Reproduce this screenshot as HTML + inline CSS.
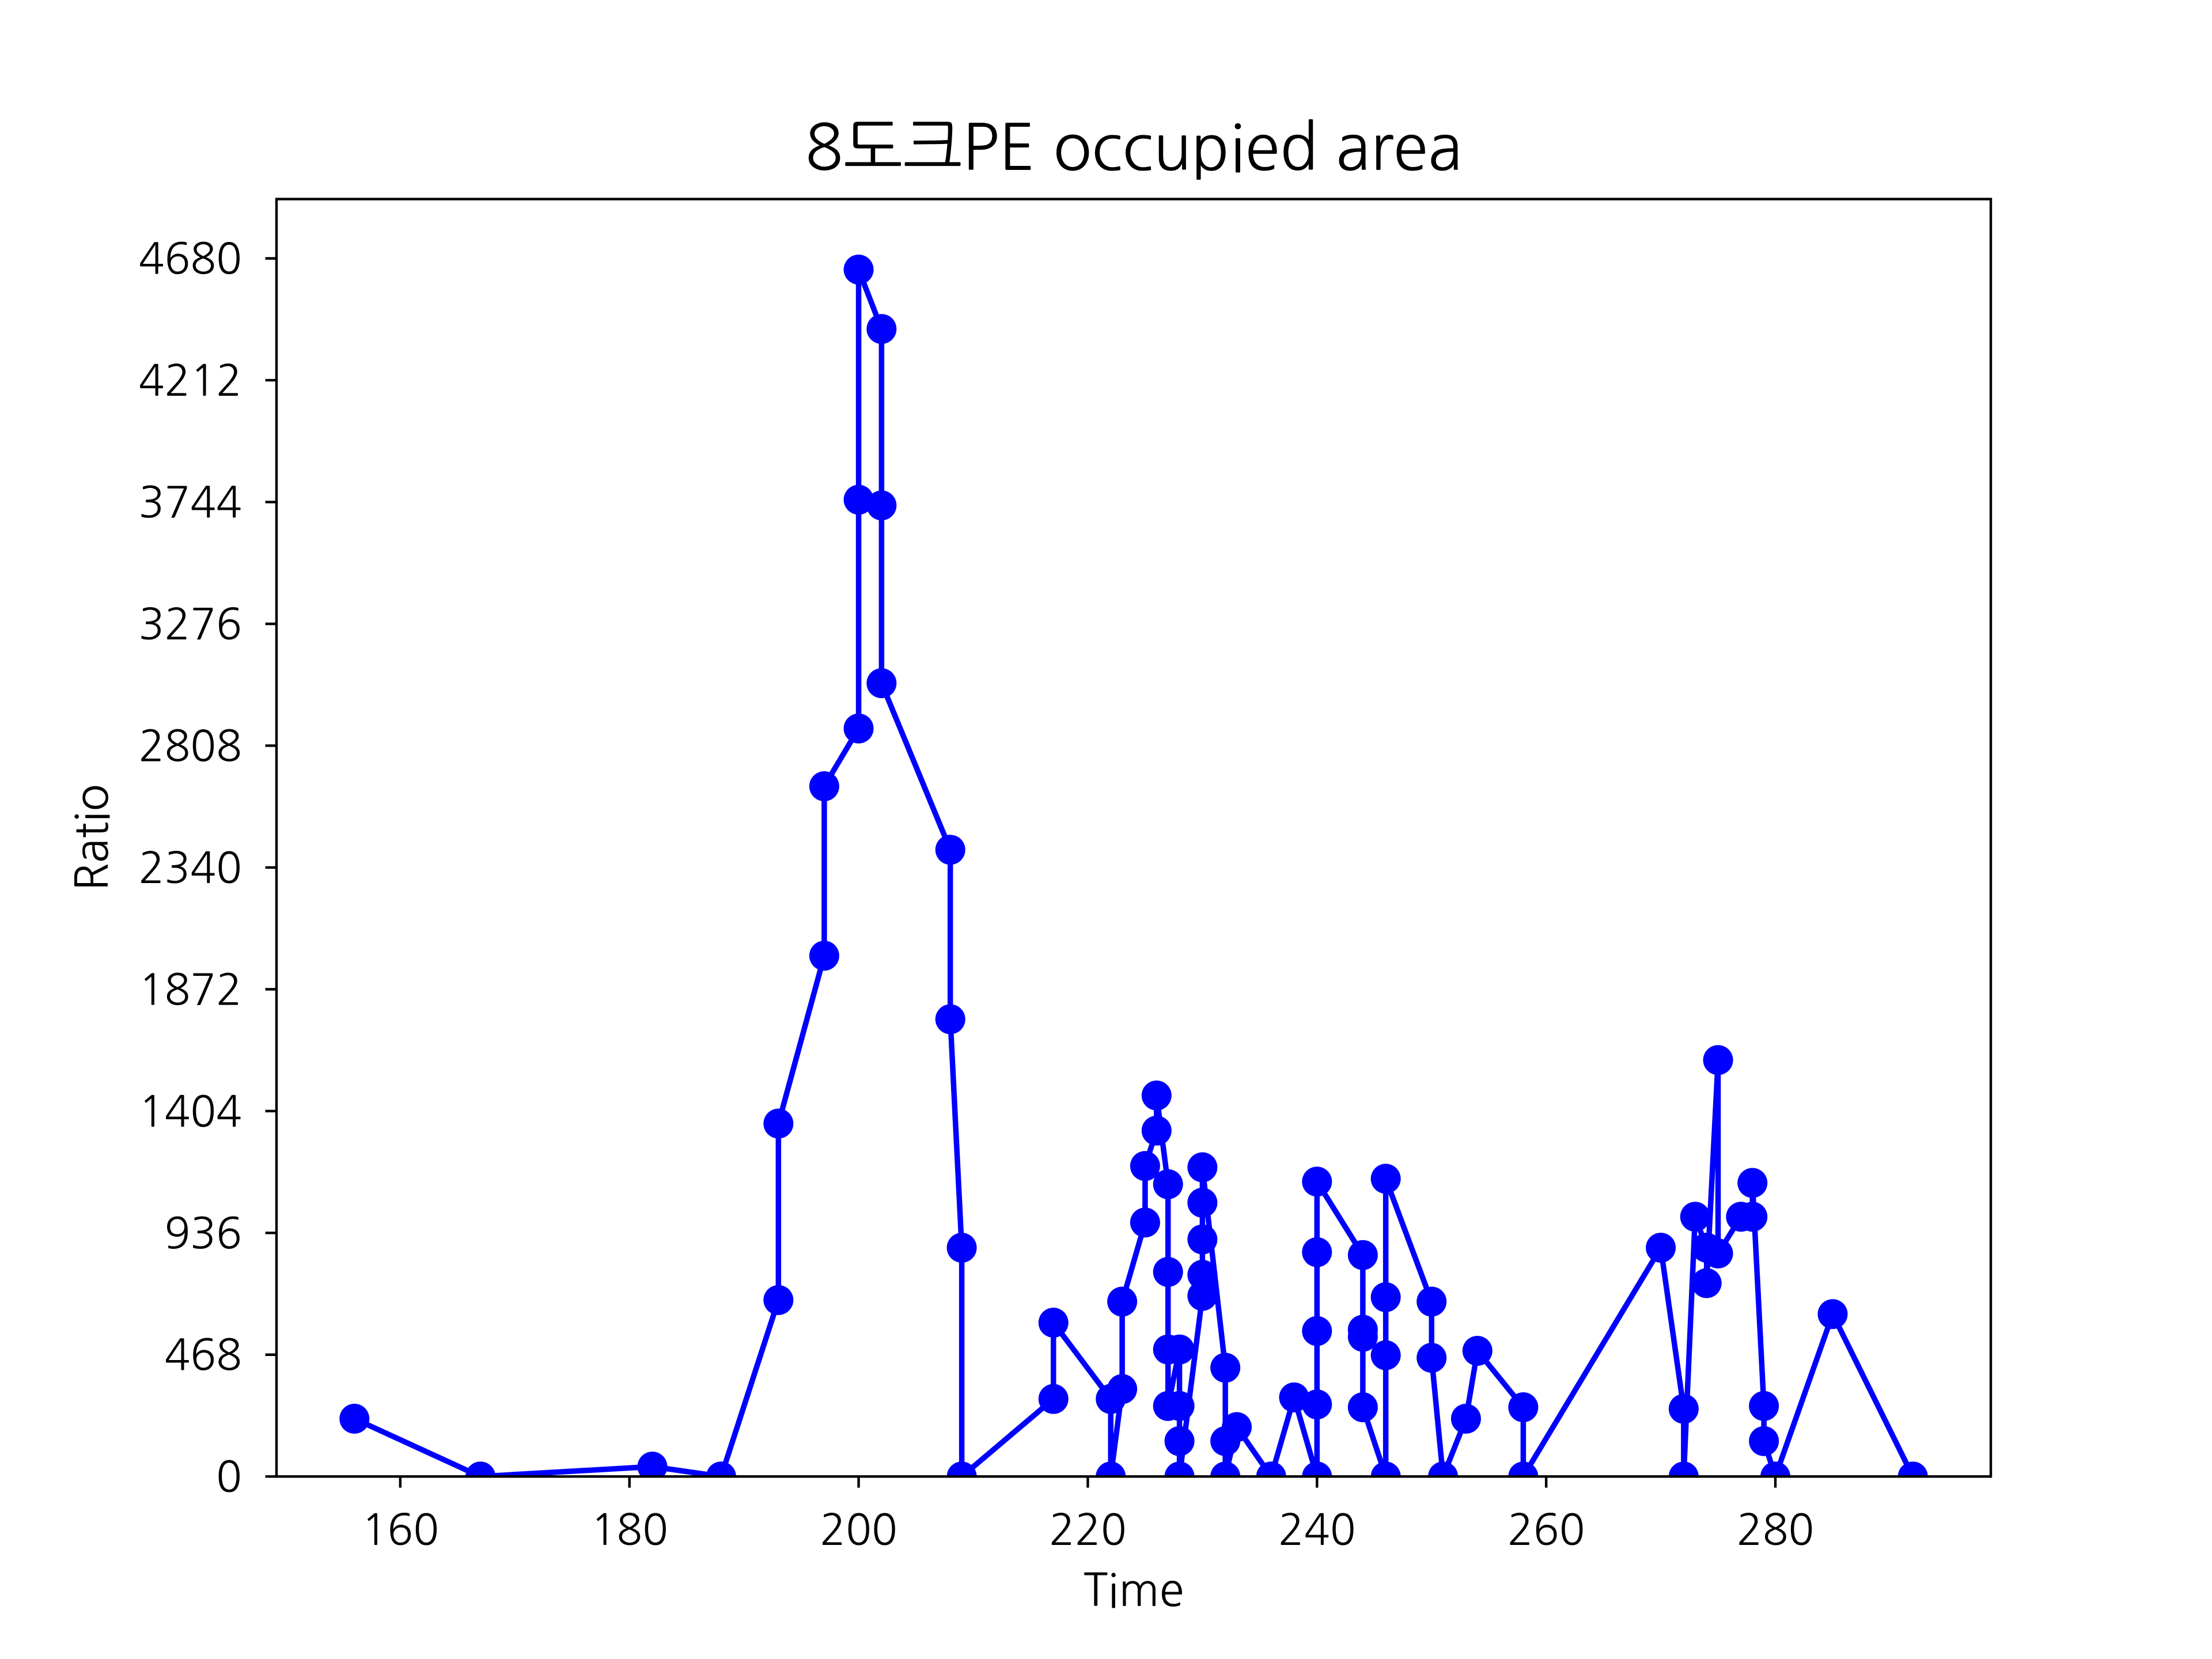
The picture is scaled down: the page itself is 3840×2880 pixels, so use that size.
<!DOCTYPE html>
<html><head><meta charset="utf-8"><style>html,body{margin:0;padding:0;background:#fff}svg{display:block}text{font-family:"NanumGothic","Liberation Sans",sans-serif;fill:#000}</style></head>
<body>
<svg id="chart" width="3840" height="2880" viewBox="0 0 3840 2880" xmlns="http://www.w3.org/2000/svg">
<rect width="3840" height="2880" fill="#fff"/>
<text x="1968" y="295" font-size="110" text-anchor="middle">8도크PE occupied area</text>
<g id="plot"></g>
<rect x="480" y="345.6" width="2976" height="2217.6" fill="none" stroke="#000" stroke-width="4.4"/>
<text x="1968" y="2788" font-size="78" text-anchor="middle">Time</text>
<text x="0" y="0" font-size="78" text-anchor="middle" transform="translate(187,1454) rotate(-90)">Ratio</text>
</svg>
<script>
const times=[156,167,182,188,193,193,197,197,200,200,200,202,202,202,208,208,209,209,217,217,222,222,223,223,225,225,226,226,227,227,227,227,228,228,228,228,230,230,230,230,230,232,232,232,233,236,238,240,240,240,240,240,244,244,244,244,246,246,246,246,250,250,251,253,254,258,258,270,272,272,273,274,274,275,275,277,278,278,279,279,280,285,292];
const ratios=[222,0,38,0,678,1356,2001,2652,2874,3753,4637,4409,3731,3048,2408,1757,879,0,298,591,298,0,336,672,976,1193,1329,1464,1123,786,488,271,488,271,136,0,694,775,911,1052,1188,418,136,0,190,0,304,0,277,559,862,1133,851,564,537,266,0,466,689,1144,672,456,0,222,483,266,0,879,260,0,998,879,743,1600,857,998,998,1128,271,136,0,624,0];
const xTicks=[160,180,200,220,240,260,280];
const yTicks=[0,468,936,1404,1872,2340,2808,3276,3744,4212,4680];
const X0=149.2,X1=298.8,Y0=0,Y1=4908;
const L=480,R=3456,T=345.6,B=2563.2;
function xs(v){return L+(v-X0)/(X1-X0)*(R-L);}
function ys(v){return B-(v-Y0)/(Y1-Y0)*(B-T);}
const NS='http://www.w3.org/2000/svg';
const svg=document.getElementById('chart');
const g=document.getElementById('plot');
function mk(t,a){const e=document.createElementNS(NS,t);for(const k in a)e.setAttribute(k,a[k]);return e;}
const cp=mk('clipPath',{id:'clip'});cp.appendChild(mk('rect',{x:L,y:T,width:R-L,height:B-T}));svg.insertBefore(cp,svg.firstChild);
const line=mk('polyline',{points:times.map((t,i)=>xs(t)+','+ys(ratios[i])).join(' '),fill:'none',stroke:'#0000ff','stroke-width':9.5,'stroke-linejoin':'round','clip-path':'url(#clip)'});


g.appendChild(line);
times.forEach((t,i)=>{const c=mk('circle',{cx:xs(t),cy:ys(ratios[i]),r:26,fill:'#0000ff','clip-path':'url(#clip)'});


g.appendChild(c);});
xTicks.forEach(v=>{const x=xs(v);
const tk=mk('line',{x1:x,x2:x,y1:B,y2:B+19.4,stroke:'#000','stroke-width':4.4});


svg.appendChild(tk);
const tx=mk('text',{x:x,y:2682,'font-size':74,'text-anchor':'middle'});tx.textContent=v;


svg.appendChild(tx);});
yTicks.forEach(v=>{const y=ys(v);
const tk=mk('line',{x1:L-19.4,x2:L,y1:y,y2:y,stroke:'#000','stroke-width':4.4});


svg.appendChild(tk);
const tx=mk('text',{x:420,y:y+27,'font-size':74,'text-anchor':'end'});tx.textContent=v;


svg.appendChild(tx);});
</script>
</body></html>
